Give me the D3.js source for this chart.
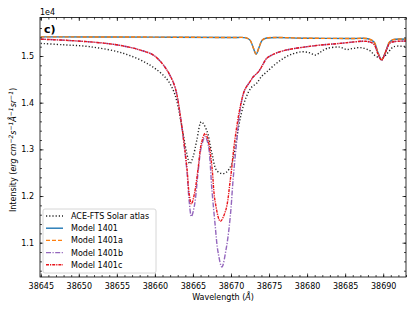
<!DOCTYPE html>
<html>
<head>
<meta charset="utf-8">
<script src="https://cdn.jsdelivr.net/npm/d3@7"></script>
<style>
  body { margin: 0; background: #fff; }
  text { font-family: "DejaVu Sans", sans-serif; }
</style>
</head>
<body>
<script>
// values (intensity in erg cm-2 s-1 A-1 sr-1)
var xTicks = [38645, 38650, 38655, 38660, 38665, 38670, 38675, 38680, 38685, 38690];
var yTicks = [11000, 12000, 13000, 14000, 15000];

var aceWave = [38645, 38648, 38651.4, 38655.8, 38659.3, 38661.5, 38662.4, 38662.9, 38663.7, 38664.2, 38664.6, 38665.0, 38665.5, 38666.1, 38666.8, 38667.5, 38668.1, 38668.8, 38669.4, 38670.1, 38670.7, 38671.3, 38672.0, 38672.7, 38673.4, 38674.0, 38674.7, 38675.8, 38676.9, 38678, 38679.3, 38680.3, 38681.1, 38681.8, 38682.6, 38684.3, 38685.2, 38686, 38687, 38688.2, 38689.0, 38689.8, 38690.5, 38691.4, 38693];
var aceVal = [15270, 15240, 15200, 15060, 14810, 14520, 14270, 14020, 13340, 12910, 12690, 12830, 13190, 13590, 13410, 12910, 12550, 12480, 12510, 12690, 13190, 13730, 14120, 14330, 14420, 14560, 14660, 14820, 14950, 15040, 15090, 15070, 15020, 15090, 15160, 15190, 15140, 15160, 15180, 15120, 15000, 14950, 15050, 15200, 15200];

var m1401Wave = [38645, 38660, 38670, 38672, 38672.5, 38672.9, 38673.3, 38673.7, 38674.1, 38674.7, 38680, 38686, 38688, 38688.8, 38689.3, 38689.8, 38690.3, 38690.8, 38691.3, 38693];
var m1401Val = [15410, 15405, 15395, 15390, 15340, 15190, 15040, 15190, 15340, 15385, 15380, 15375, 15370, 15300, 15080, 14920, 15080, 15290, 15350, 15360];
var m1401aVal = [15410, 15405, 15395, 15390, 15340, 15190, 15040, 15190, 15340, 15385, 15380, 15375, 15370, 15300, 15080, 14920, 15080, 15290, 15350, 15360];

var m1401bWave = [38645, 38649, 38653.6, 38656, 38658, 38659.8, 38661.1, 38662.0, 38662.7, 38663.4, 38664.2, 38664.5, 38664.8, 38665.2, 38665.7, 38666.1, 38666.6, 38667.0, 38667.5, 38667.9, 38668.3, 38668.8, 38669.4, 38669.9, 38670.3, 38670.8, 38671.2, 38671.8, 38672.5, 38672.9, 38673.6, 38674.2, 38674.7, 38676.4, 38680, 38684.3, 38688, 38688.8, 38689.3, 38689.8, 38690.3, 38690.9, 38691.5, 38693];
var m1401bVal = [15360, 15330, 15270, 15210, 15130, 15020, 14810, 14580, 14300, 13650, 12550, 11900, 11560, 11800, 12550, 13050, 13270, 13100, 12120, 11410, 10800, 10480, 10900, 11550, 12400, 13250, 13850, 14270, 14450, 14550, 14660, 14820, 14950, 15090, 15200, 15270, 15310, 15250, 15050, 14910, 15080, 15280, 15310, 15320];

var m1401cWave = [38645, 38649, 38653.6, 38656, 38658, 38659.8, 38661.1, 38662.0, 38662.7, 38663.4, 38664.2, 38664.5, 38664.8, 38665.2, 38665.7, 38666.1, 38666.6, 38667.0, 38667.5, 38667.9, 38668.6, 38669.3, 38669.9, 38670.5, 38671.2, 38671.8, 38672.5, 38672.9, 38673.6, 38674.2, 38674.7, 38676.4, 38680, 38684.3, 38688, 38688.8, 38689.3, 38689.8, 38690.3, 38690.9, 38691.5, 38693];
var m1401cVal = [15360, 15330, 15270, 15210, 15130, 15020, 14810, 14580, 14300, 13650, 12620, 12050, 11830, 12050, 12620, 13120, 13340, 13190, 12620, 11900, 11460, 11690, 12330, 13190, 13900, 14270, 14450, 14550, 14660, 14820, 14950, 15090, 15200, 15270, 15310, 15250, 15050, 14910, 15080, 15280, 15310, 15320];

var seriesNames = ['ACE-FTS Solar atlas', 'Model 1401', 'Model 1401a', 'Model 1401b', 'Model 1401c'];

// plot box (window.top is read-only, so use other names)
var W = 415, H = 312,
    pL = 40, pR = 406, pT = 17.5, pB = 277;

var svg = d3.select('body').append('svg').attr('width', W).attr('height', H);

var x = d3.scaleLinear().domain([38644.9, 38693.0]).range([pL, pR]);
var y = d3.scaleLinear().domain([10265, 15825]).range([pB, pT]);

// series table
var series = [
  { name: seriesNames[0], w: aceWave, v: aceVal, color: '#222', dash: '1.2,2', width: 1.4 },
  { name: seriesNames[1], w: m1401Wave, v: m1401Val, color: '#1f77b4', dash: null, width: 1.4 },
  { name: seriesNames[2], w: m1401Wave, v: m1401aVal, color: '#ff7f0e', dash: '4,2', width: 1.4 },
  { name: seriesNames[3], w: m1401bWave, v: m1401bVal, color: '#9467bd', dash: '5,1.5,1.2,1.5', width: 1.4 },
  { name: seriesNames[4], w: m1401cWave, v: m1401cVal, color: '#e8141b', dash: '3,1,1.2,1', width: 1.4 }
];

svg.append('clipPath').attr('id', 'plot')
  .append('rect').attr('x', pL).attr('y', pT).attr('width', pR - pL).attr('height', pB - pT);

var line = d3.line()
  .x(function(d) { return x(d[0]); })
  .y(function(d) { return y(d[1]); })
  .curve(d3.curveCatmullRom.alpha(0.5));

var lines = svg.append('g').attr('clip-path', 'url(#plot)');
series.forEach(function(s) {
  lines.append('path')
    .datum(d3.zip(s.w, s.v))
    .attr('d', line)
    .attr('fill', 'none')
    .attr('stroke', s.color)
    .attr('stroke-width', s.width)
    .attr('stroke-dasharray', s.dash);
});

// axes, ticks inward on all four sides
var xMinor = d3.range(38645, 38694, 1);
var yMinor = d3.range(10400, 15801, 200);

function axisGroup(axis, tr) {
  var g = svg.append('g').attr('transform', tr).call(axis);
  g.select('.domain').remove();
  g.selectAll('line').attr('stroke', '#000').attr('stroke-width', 0.7);
  return g;
}

var fmtY = function(d) { return (d / 10000).toFixed(1); };

axisGroup(d3.axisBottom(x).tickValues(xMinor).tickSize(-2).tickFormat(''), 'translate(0,' + pB + ')');
axisGroup(d3.axisTop(x).tickValues(xMinor).tickSize(-2).tickFormat(''), 'translate(0,' + pT + ')');
axisGroup(d3.axisLeft(y).tickValues(yMinor).tickSize(-2).tickFormat(''), 'translate(' + pL + ',0)');
axisGroup(d3.axisRight(y).tickValues(yMinor).tickSize(-2).tickFormat(''), 'translate(' + pR + ',0)');

var xb = axisGroup(d3.axisBottom(x).tickValues(xTicks).tickSize(-3.5).tickPadding(6).tickFormat(d3.format('d')), 'translate(0,' + pB + ')');
axisGroup(d3.axisTop(x).tickValues(xTicks).tickSize(-3.5).tickFormat(''), 'translate(0,' + pT + ')');
var yl = axisGroup(d3.axisLeft(y).tickValues(yTicks).tickSize(-3.5).tickPadding(6).tickFormat(fmtY), 'translate(' + pL + ',0)');
axisGroup(d3.axisRight(y).tickValues(yTicks).tickSize(-3.5).tickFormat(''), 'translate(' + pR + ',0)');

xb.selectAll('text').attr('font-size', 8).attr('fill', '#000').attr('font-family', 'DejaVu Sans');
yl.selectAll('text').attr('font-size', 8).attr('fill', '#000').attr('font-family', 'DejaVu Sans');

// frame
svg.append('rect').attr('x', pL).attr('y', pT).attr('width', pR - pL).attr('height', pB - pT)
  .attr('fill', 'none').attr('stroke', '#000').attr('stroke-width', 0.8);

// offset text and panel tag
svg.append('text').attr('x', pL).attr('y', 15).attr('font-size', 8).text('1e4');
svg.append('text').attr('x', 44).attr('y', 33).attr('font-size', 11).attr('font-weight', 'bold').text('c)');

// axis labels
svg.append('text').attr('x', 223).attr('y', 300).attr('text-anchor', 'middle').attr('font-size', 8)
  .html('Wavelength (<tspan font-style="italic">Å</tspan>)');

var ylab = svg.append('text').attr('transform', 'translate(16,150) rotate(-90)')
  .attr('text-anchor', 'middle').attr('font-size', 8);
ylab.append('tspan').text('Intensity (');
ylab.append('tspan').attr('font-style', 'italic').text('erg cm');
ylab.append('tspan').attr('font-style', 'italic').attr('font-size', 6).attr('dy', -3).text('−2');
ylab.append('tspan').attr('font-style', 'italic').attr('dy', 3).text('s');
ylab.append('tspan').attr('font-style', 'italic').attr('font-size', 6).attr('dy', -3).text('−1');
ylab.append('tspan').attr('font-style', 'italic').attr('dy', 3).text('Å');
ylab.append('tspan').attr('font-style', 'italic').attr('font-size', 6).attr('dy', -3).text('−1');
ylab.append('tspan').attr('font-style', 'italic').attr('dy', 3).text('sr');
ylab.append('tspan').attr('font-style', 'italic').attr('font-size', 6).attr('dy', -3).text('−1');
ylab.append('tspan').attr('dy', 3).text(')');

// legend
var lg = svg.append('g');
lg.append('rect').attr('x', 43).attr('y', 209).attr('width', 113).attr('height', 64).attr('rx', 2)
  .attr('fill', 'rgba(255,255,255,0.8)').attr('stroke', '#ccc').attr('stroke-width', 0.8);
series.forEach(function(s, i) {
  var yy = 216 + i * 12.2;
  lg.append('line').attr('x1', 46).attr('x2', 63).attr('y1', yy).attr('y2', yy)
    .attr('stroke', s.color).attr('stroke-width', s.width).attr('stroke-dasharray', s.dash);
  lg.append('text').attr('x', 71).attr('y', yy + 3).attr('font-size', 8).text(s.name);
});
</script>
</body>
</html>
